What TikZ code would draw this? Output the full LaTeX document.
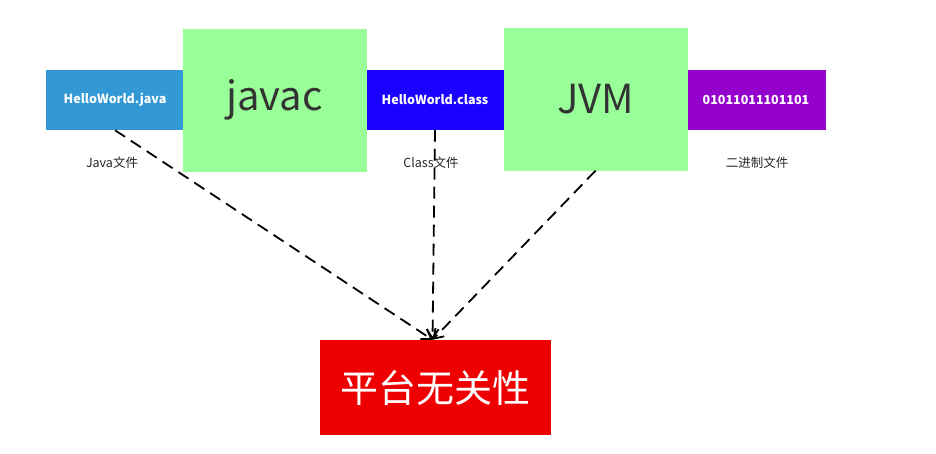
\documentclass[tikz,border=0pt]{standalone}
\usepackage{fontspec}
\setmainfont{Noto Sans CJK SC}
\usetikzlibrary{arrows.meta}

\definecolor{srcblue}{HTML}{3399D6}
\definecolor{clsblue}{HTML}{1A00FF}
\definecolor{toolgreen}{HTML}{99FF99}
\definecolor{binpurple}{HTML}{9400CC}
\definecolor{platred}{HTML}{EE0000}

\tikzset{
  filebox/.style={rectangle,inner sep=0pt,minimum width=139pt,minimum height=60pt,
    text=white,font=\fontsize{12.5}{14}\selectfont\bfseries},
  toolbox/.style={rectangle,fill=toolgreen,inner sep=0pt,minimum width=184pt,minimum height=143pt,
    text=black!80,font=\fontsize{40}{46}\selectfont},
  caption/.style={font=\fontsize{12.5}{14}\selectfont,text=black!85},
  flow/.style={-{Straight Barb[length=9pt,width=12pt]},line width=1.8pt,dash pattern=on 12pt off 7pt}
}

\begin{document}
\begin{tikzpicture}[x=1pt,y=-1pt]
  \useasboundingbox (0,0) rectangle (936,453);

  % File boxes
  \node[filebox,fill=srcblue] (java) at (115,100) {HelloWorld.java};
  \node[filebox,fill=clsblue] (cls) at (435,99.5) {HelloWorld.class};
  \node[filebox,fill=binpurple] (bin) at (756,100) {01011011101101};

  % Tools
  \node[toolbox] (javac) at (274.5,100) {javac};
  \node[toolbox] (jvm) at (595.5,99) {JVM};

  % Captions
  \node[caption] (javacap) at (112,163) {Java文件};
  \node[caption] (clscap) at (431,163) {Class文件};
  \node[caption] (bincap) at (757,163) {二进制文件};

  % Result
  \node[rectangle,fill=platred,inner sep=0pt,minimum width=231pt,minimum height=95pt,
    text=white,font=\fontsize{38}{44}\selectfont] (indep) at (435.5,387.5) {平台无关性};

  % Dashed arrows
  \draw[flow] (java.south) -- ([xshift=-3pt]indep.north);
  \draw[flow] (cls.south) -- ([xshift=-3pt]indep.north);
  \draw[flow] (jvm.south) -- ([xshift=-3pt]indep.north);
\end{tikzpicture}
\end{document}
